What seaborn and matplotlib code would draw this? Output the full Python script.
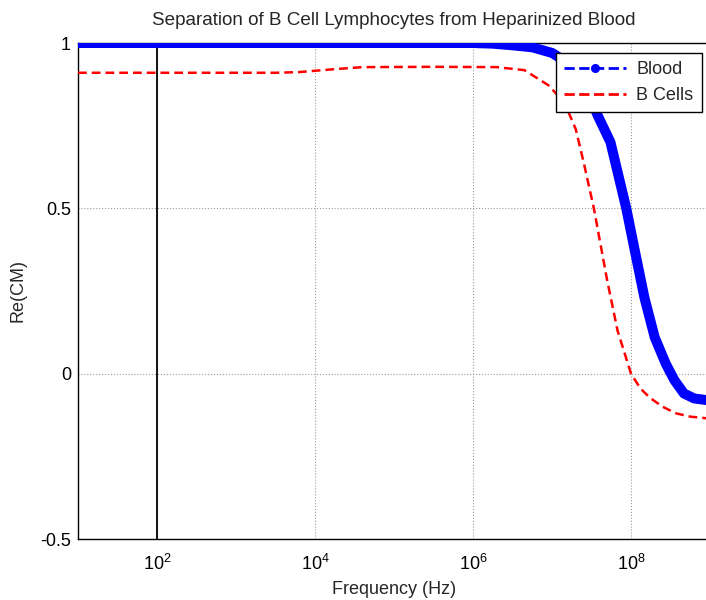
import numpy as np
import pandas as pd
import matplotlib
matplotlib.use("Agg")
import matplotlib.pyplot as plt
from matplotlib.lines import Line2D
import seaborn as sns

# log10 of frequency (Hz) and real part of the Clausius-Mossotti factor
blood_logf = [1.0, 2.0, 3.0, 4.0, 5.0, 6.0, 6.25, 6.5, 6.75, 7.0, 7.1, 7.2, 7.3, 7.4,
              7.5, 7.58, 7.74, 7.84, 7.94, 8.05, 8.17, 8.3, 8.44, 8.55, 8.67, 8.8, 8.96]
blood_re = [1.0, 1.0, 1.0, 1.0, 1.0, 1.0, 0.998, 0.993, 0.987, 0.97, 0.955, 0.935, 0.905, 0.87,
            0.825, 0.78, 0.70, 0.60, 0.50, 0.37, 0.23, 0.11, 0.03, -0.02, -0.06, -0.075, -0.08]

bcell_logf = [1.0, 3.5, 3.8, 4.2, 4.6, 5.5, 6.3, 6.65, 6.95, 7.1, 7.21, 7.30, 7.40,
              7.53, 7.70, 7.83, 8.0, 8.12, 8.24, 8.4, 8.57, 8.75, 8.96]
bcell_re = [0.91, 0.91, 0.912, 0.92, 0.927, 0.928, 0.927, 0.918, 0.873, 0.835, 0.79, 0.74, 0.64,
            0.50, 0.28, 0.13, 0.0, -0.045, -0.073, -0.10, -0.12, -0.13, -0.135]

y_ticks = [-0.5, 0, 0.5, 1]
y_tick_labels = ["-0.5", "0", "0.5", "1"]

blood = pd.DataFrame({"f": np.power(10.0, blood_logf), "re": blood_re})
bcell = pd.DataFrame({"f": np.power(10.0, bcell_logf), "re": bcell_re})

sns.set_style("white")
plt.rcParams["font.family"] = ["Liberation Sans", "DejaVu Sans"]
plt.rcParams["mathtext.fontset"] = "custom"
plt.rcParams["mathtext.rm"] = "Liberation Sans"

fig = plt.figure(figsize=(7.06, 6.0), dpi=100)
ax = fig.add_axes([78 / 706, 1 - 539 / 600, (710 - 78) / 706, (539 - 43) / 600])

ax.set_xscale("log")
ax.set_xlim(10, 1e9)
ax.set_ylim(-0.5, 1)

ax.grid(True, which="major", color="#9a9a9a", linestyle=":", linewidth=0.8)
ax.axvline(100, color="black", linewidth=1.3, zorder=1.5)

sns.lineplot(data=blood, x="f", y="re", ax=ax, color="#0000ff", linewidth=7.2,
             solid_capstyle="round", solid_joinstyle="round", zorder=3, sort=False)
sns.lineplot(data=bcell, x="f", y="re", ax=ax, color="#ff0000", linewidth=1.8,
             linestyle=(0, (3.5, 2)), zorder=4, sort=False)

ax.set_yticks(y_ticks)
ax.set_yticklabels(y_tick_labels)
ax.set_xticks([1e2, 1e4, 1e6, 1e8])
ax.xaxis.set_minor_locator(matplotlib.ticker.NullLocator())
ax.tick_params(axis="y", direction="in", length=4, width=0.8, colors="black",
               labelsize=13, pad=5)
ax.tick_params(axis="x", direction="in", length=4, width=0.8, colors="black",
               labelsize=13, pad=11)

for side in ["left", "bottom", "top", "right"]:
    ax.spines[side].set_color("black")
    ax.spines[side].set_linewidth(1.0)

ax.set_title("Separation of B Cell Lymphocytes from Heparinized Blood",
             fontsize=13.6, pad=13)
ax.set_xlabel("Frequency (Hz)", fontsize=13, labelpad=5)
ax.set_ylabel("Re(CM)", fontsize=13, labelpad=10)

handles = [
    Line2D([0], [0], color="#0000ff", linestyle="--", linewidth=2, marker=".",
           markersize=11),
    Line2D([0], [0], color="#ff0000", linestyle="--", linewidth=2),
]
leg = ax.legend(handles, ["Blood", "B Cells"], loc="upper left",
                bbox_to_anchor=((556 - 78) / 632, 1 - (53 - 43) / 496),
                frameon=True, fancybox=False, edgecolor="black", framealpha=1,
                fontsize=13, handlelength=3.4, borderpad=0.45,
                labelspacing=0.5, handletextpad=0.6, borderaxespad=0)
leg.get_frame().set_linewidth(1.0)
leg.set_zorder(10)

fig.savefig("out.png", dpi=100)
